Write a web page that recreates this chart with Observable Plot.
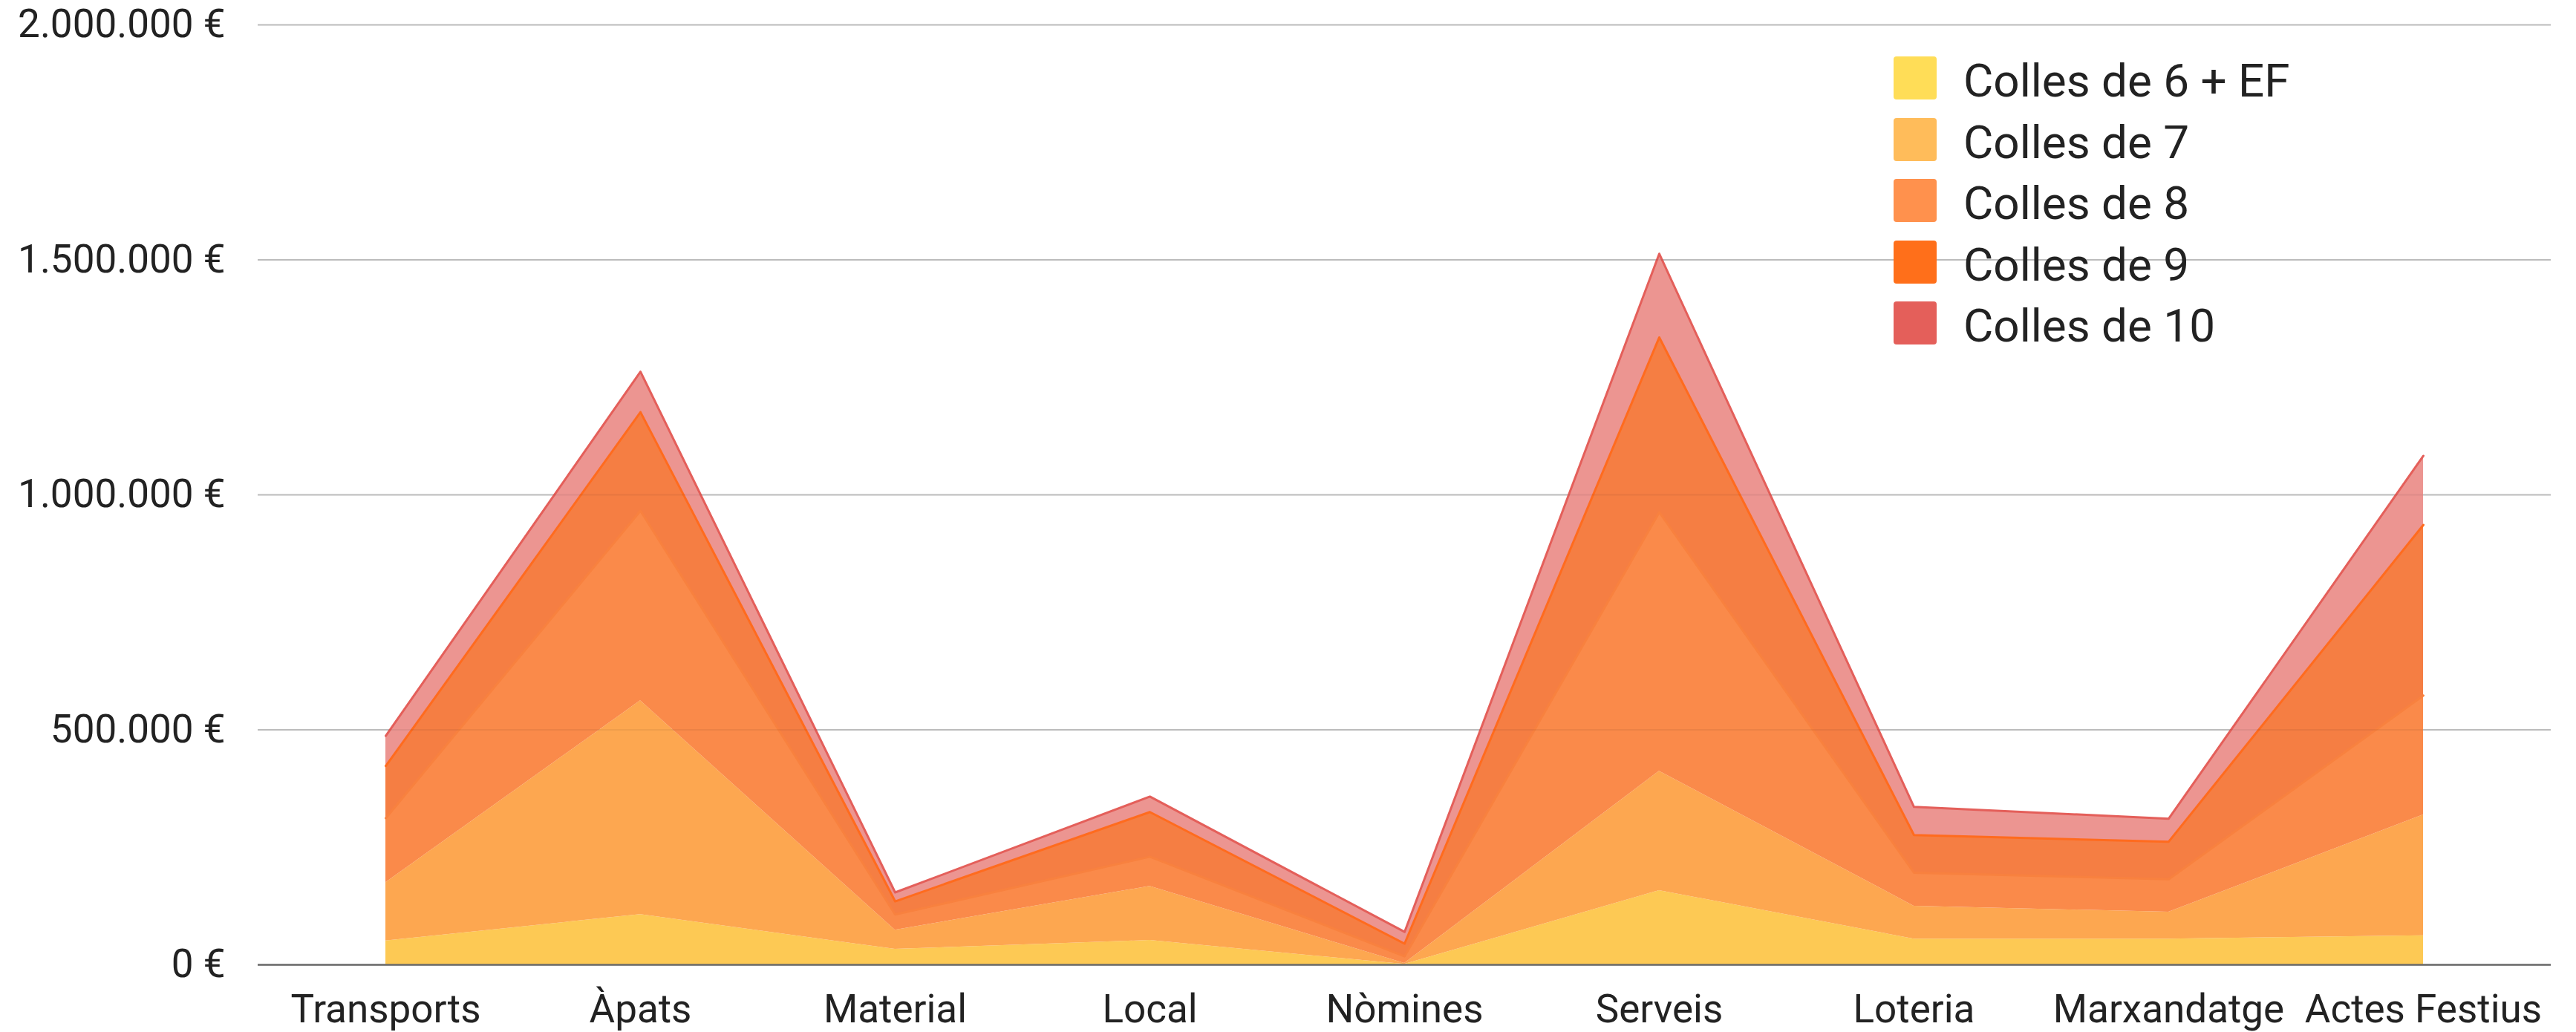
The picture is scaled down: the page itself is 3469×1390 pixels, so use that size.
<!DOCTYPE html>
<html>
<head>
<meta charset="utf-8">
<script src="https://cdn.jsdelivr.net/npm/d3@7"></script>
<script src="https://cdn.jsdelivr.net/npm/@observablehq/plot@0.6"></script>
<style>
  html, body { margin: 0; padding: 0; background: #fff; }
  #wrap { position: relative; width: 3469px; height: 1390px; font-family: Roboto, sans-serif; }
  #legend { position: absolute; left: 2550px; top: 76px; }
  .row { display: flex; align-items: center; height: 58px; margin-bottom: 24.5px; }
  .sw { width: 58px; height: 58px; border-radius: 4px; margin-right: 36px; }
  .lab { font-size: 62px; color: #222; line-height: 58px; position: relative; top: 4px; }
</style>
</head>
<body>
<div id="wrap"><div id="legend"></div></div>
<script>
const categories = ["Transports", "Àpats", "Material", "Local", "Nòmines", "Serveis", "Loteria", "Marxandatge", "Actes Festius"];
const seriesNames = ["Colles de 6 + EF", "Colles de 7", "Colles de 8", "Colles de 9", "Colles de 10"];
const colles6 = [51000, 107000, 33000, 52000, 1000, 158000, 55000, 55000, 62000];
const colles7 = [124000, 455000, 41000, 115000, 2000, 254000, 70000, 57000, 257000];
const colles8 = [137000, 404000, 33000, 63000, 15000, 551000, 71000, 70000, 254000];
const colles9 = [111000, 210000, 28000, 95000, 27000, 372000, 80000, 80000, 363000];
const colles10 = [64000, 86000, 19000, 33000, 25000, 178000, 60000, 49000, 147000];
const yTicks = [0, 500000, 1000000, 1500000, 2000000];

const legendColors = ["#FFDD57", "#FFBC5A", "#FF914D", "#FF6F1A", "#E45F5A"];
const fillColors = ["#FDC954", "#FDA750", "#FA8A4A", "#F57E43", "#EC9591"];
const lineColors = ["none", "none", "#F8813F", "#FF6B1E", "#E45F5A"];

const seriesValues = [colles6, colles7, colles8, colles9, colles10];
const data = [];
seriesNames.forEach((s, i) => {
  categories.forEach((c, j) => data.push({cat: c, series: s, value: seriesValues[i][j]}));
});
const fillOf = Object.fromEntries(seriesNames.map((s, i) => [s, fillColors[i]]));
const lineOf = Object.fromEntries(seriesNames.map((s, i) => [s, lineColors[i]]));

const locale = d3.formatLocale({decimal: ",", thousands: ".", grouping: [3], currency: ["", " €"]});
const fmt = locale.format("$,.0f");

const W = 3469, H = 1390;
const chart = Plot.plot({
  width: W,
  height: H,
  marginLeft: 347,
  marginRight: 34,
  marginTop: 33,
  marginBottom: 91,
  style: {fontFamily: "Roboto, sans-serif", fontSize: "53px", color: "#222", background: "#fff"},
  x: {type: "point", domain: categories, padding: 0.5, label: null},
  y: {domain: [0, 2000000], label: null},
  color: {type: "identity"},
  marks: [
    Plot.gridY(yTicks, {stroke: "#c8c8c8", strokeOpacity: 1, strokeWidth: 2}),
    Plot.areaY(data, {x: "cat", y: "value", z: "series", fill: d => fillOf[d.series], order: seriesNames}),
    Plot.lineY(data, Plot.stackY2({x: "cat", y: "value", z: "series", order: seriesNames, stroke: d => lineOf[d.series], strokeWidth: 3})),
    Plot.gridY(yTicks.slice(1), {stroke: "#000", strokeOpacity: 0.06, strokeWidth: 2}),
    Plot.ruleY([0], {stroke: "#6b6b6b", strokeWidth: 2.5}),
    Plot.axisY(yTicks, {tickSize: 0, tickPadding: 44, tickFormat: fmt, fontSize: 53, fill: "#222"}),
    Plot.axisX({tickSize: 0, tickPadding: 40, fontSize: 53, fill: "#222"})
  ]
});
document.getElementById("wrap").prepend(chart);

const legend = document.getElementById("legend");
seriesNames.forEach((s, i) => {
  const row = document.createElement("div");
  row.className = "row";
  const sw = document.createElement("div");
  sw.className = "sw";
  sw.style.background = legendColors[i];
  const lab = document.createElement("div");
  lab.className = "lab";
  lab.textContent = s;
  row.appendChild(sw);
  row.appendChild(lab);
  legend.appendChild(row);
});
</script>
</body>
</html>
